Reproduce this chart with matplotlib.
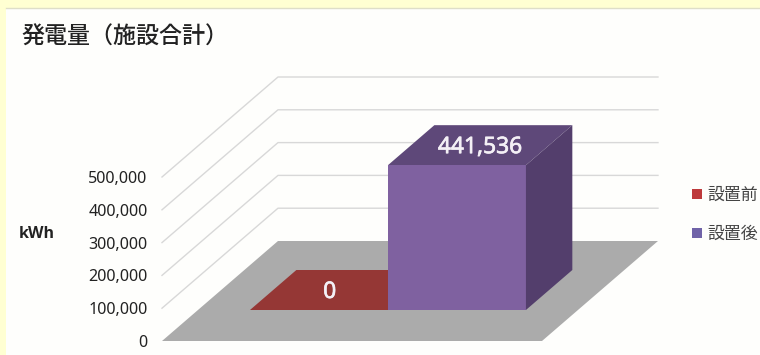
import matplotlib
matplotlib.use('Agg')
import matplotlib.pyplot as plt
import matplotlib.patheffects as pe
from matplotlib.patches import Patch, Polygon, Rectangle

plt.rcParams['font.family'] = ['Noto Sans', 'Noto Sans CJK JP']

title = '発電量（施設合計）'
unit_label = 'kWh'
categories = ['設置前', '設置後']
values = [0, 441536]
value_labels = ['0', '441,536']
yticks = [0, 100000, 200000, 300000, 400000, 500000]

front_colors = ['#953735', '#7F61A0']
top_colors = ['#953735', '#5E4879']
side_colors = ['#953735', '#533E6C']
legend_colors = ['#BE3A3C', '#7063A8']

W, H = 760, 355

# oblique projection: depth 0..1 runs from the front of the floor to the back wall
DEPTH_X = 0.8406
DEPTH_Y = 304878
XMIN, XMAX = -0.377, 2.377
BAR_FRONT, BAR_BACK = 0.31, 0.71


def proj(x, v, d):
    return (x + DEPTH_X * d, v + DEPTH_Y * d)


def quad(ax, pts, color, z):
    ax.add_patch(Polygon(pts, closed=True, facecolor=color, edgecolor='none',
                         zorder=z, clip_on=False))


fig = plt.figure(figsize=(W / 100, H / 100), dpi=100, facecolor='#FFFFD2')
fig.add_artist(Rectangle((6 / W, 0), 1, 1 - 8 / H, transform=fig.transFigure,
                         facecolor='#FEFEFC', edgecolor='none', zorder=-2))
fig.add_artist(plt.Line2D([6 / W, 1], [1 - 8 / H, 1 - 8 / H], color='#DEDEC8', lw=1, zorder=-1))

ax = fig.add_axes([162 / W, (H - 341) / H, 380 / W, 164 / H])
ax.patch.set_alpha(0)
ax.set_xlim(XMIN, XMAX)
ax.set_ylim(0, yticks[-1])
for s in ax.spines.values():
    s.set_visible(False)
ax.set_xticks([])
ax.set_yticks(yticks)
ax.set_yticklabels([f'{v:,}' for v in yticks], fontsize=11.6, color='#222222')
ax.tick_params(axis='y', length=0, pad=10.5)

# wall gridlines
for v in yticks[1:]:
    a = proj(XMIN, v, 0)
    b = proj(XMIN, v, 1)
    c = proj(XMAX, v, 1)
    ax.plot([a[0], b[0], c[0]], [a[1], b[1], c[1]], color='#D8D8D8', lw=1,
            zorder=1, clip_on=False)

# floor
quad(ax, [proj(XMIN, 0, 0), proj(XMAX, 0, 0), proj(XMAX, 0, 1), proj(XMIN, 0, 1)],
     '#ABABAB', 2)

# bars
for i, v in enumerate(values):
    x0, x1 = i, i + 1
    z = 3 + i
    quad(ax, [proj(x0, v, BAR_FRONT), proj(x1, v, BAR_FRONT),
              proj(x1, v, BAR_BACK), proj(x0, v, BAR_BACK)], top_colors[i], z)
    if v > 0:
        quad(ax, [proj(x0, 0, BAR_FRONT), proj(x1, 0, BAR_FRONT),
                  proj(x1, v, BAR_FRONT), proj(x0, v, BAR_FRONT)], front_colors[i], z)
        quad(ax, [proj(x1, 0, BAR_FRONT), proj(x1, 0, BAR_BACK),
                  proj(x1, v, BAR_BACK), proj(x1, v, BAR_FRONT)], side_colors[i], z)

# the zero bar's label sits over the part not hidden by its neighbour
label_shift = [-0.09, 0]
for i, v in enumerate(values):
    lx, ly = proj(i + 0.5 + label_shift[i], v, (BAR_FRONT + BAR_BACK) / 2)
    ax.text(lx, ly - 6000, value_labels[i], color='#F4F0F6', fontsize=16.4,
            ha='center', va='center', zorder=6,
            path_effects=[pe.withStroke(linewidth=0.5, foreground='#F4F0F6')])

fig.text(21 / W, 1 - 37 / H, title, fontsize=16.6, color='#222222', va='center',
         fontweight='medium', family=['Noto Sans CJK JP', 'DejaVu Sans'])
fig.text(19 / W, 1 - 234 / H, unit_label, fontsize=11.5, color='#222222', va='center',
         fontweight='bold', family='Open Sans')

handles = [Patch(facecolor=c, edgecolor='none') for c in legend_colors]
fig.legend(handles, categories, loc='center left', bbox_to_anchor=(692 / W, 1 - 214.5 / H),
           frameon=False, labelcolor='#444444',
           handlelength=0.6, handleheight=0.6, handletextpad=0.3,
           labelspacing=1.25, borderpad=0, borderaxespad=0,
           prop={'family': ['Noto Sans CJK JP', 'DejaVu Sans'], 'size': 12.2})

fig.savefig('out.png', dpi=100, facecolor=fig.get_facecolor())
